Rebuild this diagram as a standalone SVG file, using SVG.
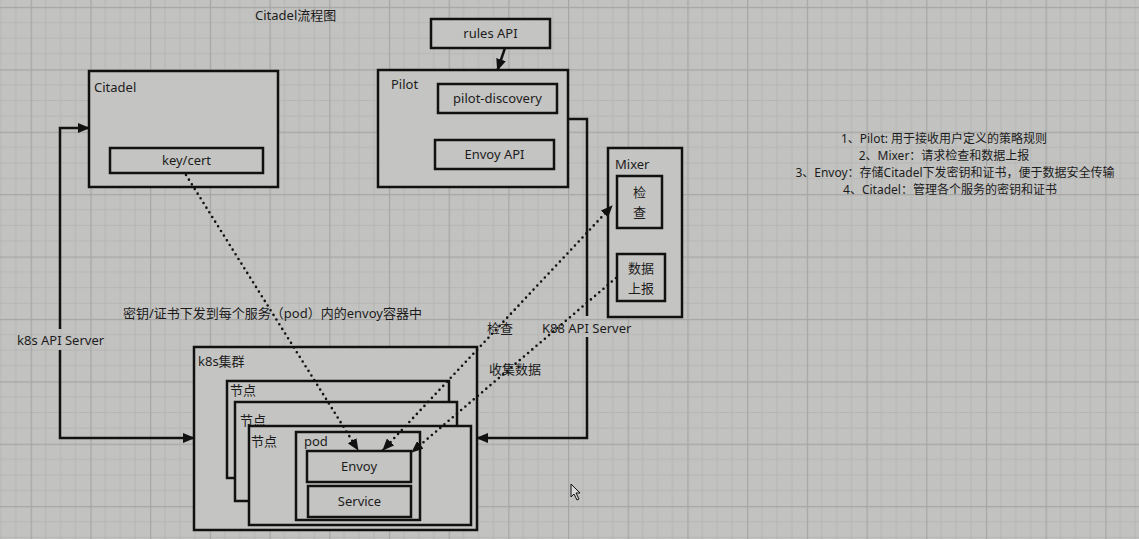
<svg xmlns="http://www.w3.org/2000/svg" width="1139" height="539" viewBox="0 0 1139 539">
<defs>
<pattern id="grid" x="30.7" y="6.9" width="59.7" height="62.4" patternUnits="userSpaceOnUse">
<rect width="59.7" height="62.4" fill="#c2c2c0"/>
<path d="M14.9,0V62.4M29.85,0V62.4M44.8,0V62.4M0,15.6H59.7M0,31.2H59.7M0,46.8H59.7" stroke="#b6b6b4" stroke-width="1" fill="none"/>
<path d="M0.5,0V62.4M0,0.5H59.7" stroke="#a6a6a5" stroke-width="1.4" fill="none"/>
</pattern>
<marker id="ah" viewBox="0 0 12 10" refX="11" refY="5" markerWidth="12" markerHeight="10" markerUnits="userSpaceOnUse" orient="auto-start-reverse">
<path d="M0,0 L12,5 L0,10 z" fill="#111"/>
</marker>
<style>
.box{fill:#c4c4c2;stroke:#111;stroke-width:2.5}
.t{font-family:"Noto Sans","Noto Sans CJK SC",sans-serif;font-size:13px;fill:#1c1c1c}
.s{font-family:"Noto Sans","Noto Sans CJK SC",sans-serif;font-size:12px;fill:#1c1c1c}
.c{text-anchor:middle}
.line{fill:none;stroke:#111;stroke-width:2.5}
.dot{fill:none;stroke:#111;stroke-width:2.6;stroke-linecap:round;stroke-dasharray:0 5.5}
</style>
</defs>
<rect width="1139" height="539" fill="url(#grid)"/>

<text class="t" x="255" y="20">Citadel流程图</text>

<g id="citadel">
<rect class="box" x="89" y="71" width="189" height="116"/>
<text class="t" x="94" y="92">Citadel</text>
</g>
<g id="keycert">
<rect class="box" x="110" y="148" width="153" height="25"/>
<text class="t c" x="186.5" y="165">key/cert</text>
</g>

<g id="rules-api">
<rect class="box" x="431" y="19" width="119" height="29"/>
<text class="t c" x="490.5" y="38">rules API</text>
</g>
<g id="pilot">
<rect class="box" x="378" y="70" width="190" height="117"/>
<text class="t" x="391" y="89">Pilot</text>
</g>
<g id="pilot-discovery">
<rect class="box" x="438" y="84" width="119" height="29"/>
<text class="t c" x="497.5" y="103">pilot-discovery</text>
</g>
<g id="envoy-api">
<rect class="box" x="435" y="140" width="119" height="29"/>
<text class="t c" x="494.5" y="159">Envoy API</text>
</g>

<g id="mixer">
<rect class="box" x="608" y="148" width="74" height="169"/>
<text class="t" x="615" y="169">Mixer</text>
</g>
<g id="check">
<rect class="box" x="617" y="176" width="45" height="52"/>
<text class="t c" x="639.5" y="197">检</text>
<text class="t c" x="639.5" y="217">查</text>
</g>
<g id="report">
<rect class="box" x="617" y="254" width="48" height="47"/>
<text class="t c" x="641" y="273">数据</text>
<text class="t c" x="641" y="293">上报</text>
</g>

<g id="k8s-cluster">
<rect class="box" x="194" y="347" width="283" height="183"/>
<text class="t" x="198" y="366">k8s集群</text>
</g>
<g id="node1">
<rect class="box" x="227" y="381" width="222" height="97"/>
<text class="t" x="230" y="395">节点</text>
</g>
<g id="node2">
<rect class="box" x="235" y="402" width="222" height="99"/>
<text class="t" x="240" y="425">节点</text>
</g>
<g id="node3">
<rect class="box" x="249" y="426" width="222" height="99"/>
<text class="t" x="251" y="446">节点</text>
</g>
<g id="pod">
<rect class="box" x="296" y="432" width="124" height="88"/>
<text class="t" x="304" y="446">pod</text>
</g>
<g id="envoy">
<rect class="box" x="307" y="451" width="104" height="31"/>
<text class="t c" x="359" y="471">Envoy</text>
</g>
<g id="service">
<rect class="box" x="308" y="486" width="103" height="31"/>
<text class="t c" x="359.5" y="506">Service</text>
</g>

<g id="connectors">
<path class="line" d="M505,48 L497.5,70" marker-end="url(#ah)"/>
<path class="line" d="M60,329 V128 H89" marker-end="url(#ah)"/>
<path class="line" d="M60,350 V438 H194" marker-end="url(#ah)"/>
<path class="line" d="M568,119 H587 V316"/>
<path class="line" d="M587,337 V438 H477" marker-end="url(#ah)"/>
<path class="dot" d="M186,175 L358,450" marker-end="url(#ah)"/>
<path class="dot" d="M383,450 L612,206" marker-start="url(#ah)" marker-end="url(#ah)"/>
<path class="dot" d="M616,278 L412,452" marker-end="url(#ah)"/>
</g>

<g id="labels">
<text class="t" x="17" y="345">k8s API Server</text>
<text class="t" x="123" y="318">密钥/证书下发到每个服务（pod）内的envoy容器中</text>
<text class="t" x="487" y="333">检查</text>
<text class="t" x="489" y="374">收集数据</text>
<text class="t" x="542" y="333">K88 API Server</text>
</g>

<g id="notes">
<text class="s c" x="944" y="143">1、Pilot: 用于接收用户定义的策略规则</text>
<text class="s c" x="944" y="160">2、Mixer：请求检查和数据上报</text>
<text class="s c" x="955" y="177">3、Envoy：存储Citadel下发密钥和证书，便于数据安全传输</text>
<text class="s c" x="950" y="194">4、Citadel：管理各个服务的密钥和证书</text>
</g>

<path d="M571,484 V497 L574,494 L577,500 L579,499 L576,493 L580,493 Z" fill="#d8d8d8" stroke="#111" stroke-width="1"/>
</svg>
